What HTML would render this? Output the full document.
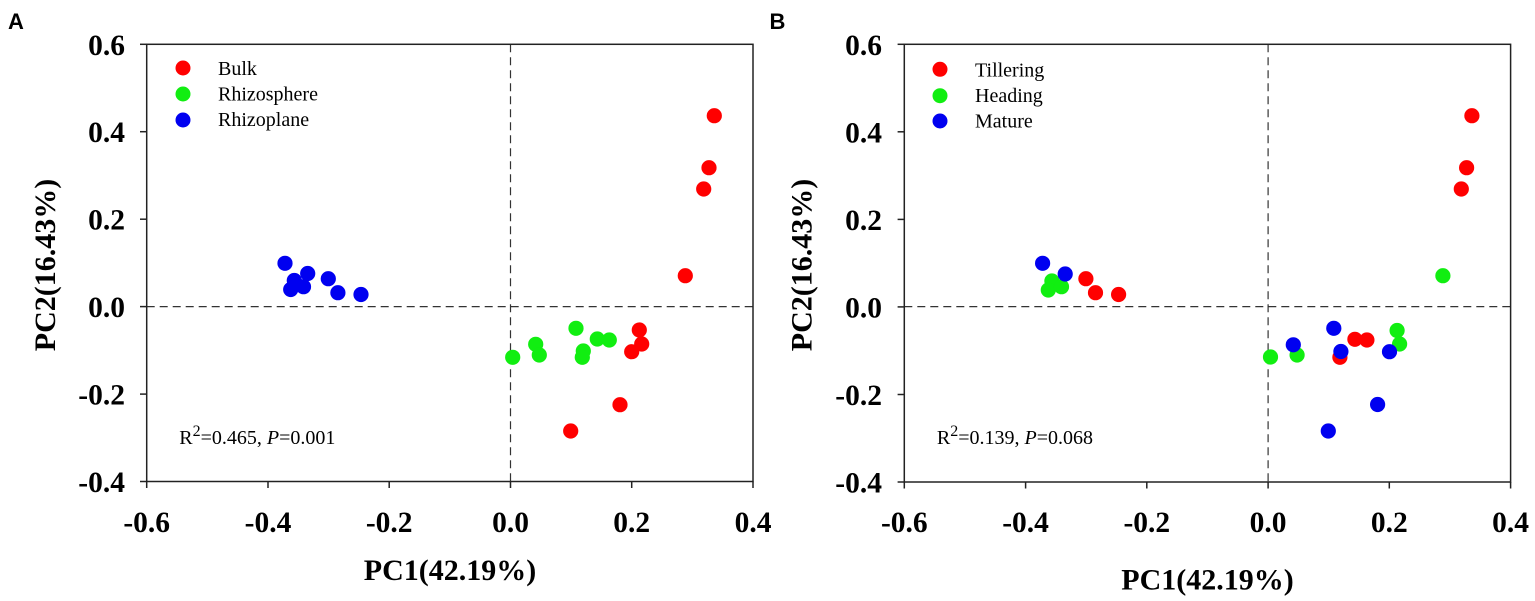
<!DOCTYPE html>
<html>
<head>
<meta charset="utf-8">
<style>
  html, body { margin: 0; padding: 0; background: #ffffff; }
  svg { display: block; }
  .tick { font-family: "Liberation Serif", serif; font-weight: bold; font-size: 29.5px; fill: #000; }
  .title { font-family: "Liberation Serif", serif; font-weight: bold; font-size: 30px; fill: #000; }
  .leg { font-family: "Liberation Serif", serif; font-size: 20px; fill: #000; }
  .panel { font-family: "Liberation Sans", sans-serif; font-weight: bold; font-size: 22px; fill: #000; }
</style>
</head>
<body>
<svg width="1535" height="601" viewBox="0 0 1535 601" xmlns="http://www.w3.org/2000/svg">
  <rect x="0" y="0" width="1535" height="601" fill="#ffffff"/>

  <!-- ================= PANEL A ================= -->
  <text class="panel" x="8" y="29">A</text>

  <!-- dashed reference lines -->
  <line x1="146.7" y1="306.6" x2="753" y2="306.6" stroke="#333" stroke-width="1.2" stroke-dasharray="8,5"/>
  <line x1="510.5" y1="44.3" x2="510.5" y2="481.5" stroke="#333" stroke-width="1.2" stroke-dasharray="8,5"/>

  <!-- frame -->
  <rect x="146.7" y="44.3" width="606.3" height="437.2" fill="none" stroke="#222" stroke-width="1.5"/>
  <!-- y ticks -->
  <g stroke="#222" stroke-width="1.5">
    <line x1="140" y1="44.3" x2="146.7" y2="44.3"/>
    <line x1="140" y1="131.7" x2="146.7" y2="131.7"/>
    <line x1="140" y1="219.2" x2="146.7" y2="219.2"/>
    <line x1="140" y1="306.6" x2="146.7" y2="306.6"/>
    <line x1="140" y1="394.1" x2="146.7" y2="394.1"/>
    <line x1="140" y1="481.5" x2="146.7" y2="481.5"/>
    <!-- x ticks -->
    <line x1="146.7" y1="481.5" x2="146.7" y2="488"/>
    <line x1="268" y1="481.5" x2="268" y2="488"/>
    <line x1="389.2" y1="481.5" x2="389.2" y2="488"/>
    <line x1="510.5" y1="481.5" x2="510.5" y2="488"/>
    <line x1="631.7" y1="481.5" x2="631.7" y2="488"/>
    <line x1="753" y1="481.5" x2="753" y2="488"/>
  </g>
  <!-- y tick labels -->
  <g class="tick" text-anchor="end">
    <text x="125" y="55">0.6</text>
    <text x="125" y="142.2">0.4</text>
    <text x="125" y="229.7">0.2</text>
    <text x="125" y="317.1">0.0</text>
    <text x="125" y="404.6">-0.2</text>
    <text x="125" y="492">-0.4</text>
  </g>
  <!-- x tick labels -->
  <g class="tick" text-anchor="middle">
    <text x="146.7" y="532">-0.6</text>
    <text x="268" y="532">-0.4</text>
    <text x="389.2" y="532">-0.2</text>
    <text x="510.5" y="532">0.0</text>
    <text x="631.7" y="532">0.2</text>
    <text x="753" y="532">0.4</text>
  </g>
  <text class="title" x="450" y="580" text-anchor="middle">PC1(42.19%)</text>
  <text class="title" x="0" y="0" text-anchor="middle" transform="translate(55,265) rotate(-90)">PC2(16.43%)</text>

  <!-- legend A -->
  <circle cx="183" cy="68" r="7.5" fill="#ff0000"/>
  <circle cx="183" cy="94" r="7.5" fill="#11ee11"/>
  <circle cx="183" cy="120" r="7.5" fill="#0000f0"/>
  <text class="leg" x="218" y="75">Bulk</text>
  <text class="leg" x="218" y="100.5">Rhizosphere</text>
  <text class="leg" x="218" y="126">Rhizoplane</text>

  <!-- annotation A -->
  <text class="leg" x="179.3" y="444">R<tspan dy="-8" font-size="16">2</tspan><tspan dy="8">=0.465, </tspan><tspan font-style="italic">P</tspan>=0.001</text>

  <!-- points A: red -->
  <g fill="#ff0000">
    <circle cx="639.3" cy="330" r="7.6"/>
    <circle cx="641.7" cy="344" r="7.6"/>
    <circle cx="631.7" cy="351.7" r="7.6"/>
    <circle cx="620" cy="404.7" r="7.6"/>
    <circle cx="570.7" cy="431" r="7.6"/>
    <circle cx="714.3" cy="115.7" r="7.6"/>
    <circle cx="709" cy="167.7" r="7.6"/>
    <circle cx="703.7" cy="189" r="7.6"/>
    <circle cx="685.3" cy="275.7" r="7.6"/>
  </g>
  <!-- green -->
  <g fill="#11ee11">
    <circle cx="512.7" cy="357.3" r="7.6"/>
    <circle cx="535.7" cy="344.3" r="7.6"/>
    <circle cx="539.3" cy="355" r="7.6"/>
    <circle cx="576" cy="328.3" r="7.6"/>
    <circle cx="583.3" cy="351" r="7.6"/>
    <circle cx="582.3" cy="357.3" r="7.6"/>
    <circle cx="597.3" cy="339" r="7.6"/>
    <circle cx="609.3" cy="340" r="7.6"/>
  </g>
  <!-- blue -->
  <g fill="#0000f0">
    <circle cx="285" cy="263.3" r="7.6"/>
    <circle cx="294.3" cy="280.5" r="7.6"/>
    <circle cx="307.7" cy="273.5" r="7.6"/>
    <circle cx="290.7" cy="289.5" r="7.6"/>
    <circle cx="303.5" cy="286.7" r="7.6"/>
    <circle cx="328.3" cy="278.7" r="7.6"/>
    <circle cx="337.9" cy="292.7" r="7.6"/>
    <circle cx="361" cy="294.5" r="7.6"/>
  </g>

  <!-- ================= PANEL B ================= -->
  <text class="panel" x="769.5" y="29">B</text>

  <line x1="904.3" y1="306.6" x2="1510.6" y2="306.6" stroke="#333" stroke-width="1.2" stroke-dasharray="8,5"/>
  <line x1="1268.1" y1="44.3" x2="1268.1" y2="482" stroke="#333" stroke-width="1.2" stroke-dasharray="8,5"/>

  <rect x="904.3" y="44.3" width="606.3" height="437.7" fill="none" stroke="#222" stroke-width="1.5"/>
  <g stroke="#222" stroke-width="1.5">
    <line x1="897.6" y1="44.3" x2="904.3" y2="44.3"/>
    <line x1="897.6" y1="131.8" x2="904.3" y2="131.8"/>
    <line x1="897.6" y1="219.4" x2="904.3" y2="219.4"/>
    <line x1="897.6" y1="306.9" x2="904.3" y2="306.9"/>
    <line x1="897.6" y1="394.5" x2="904.3" y2="394.5"/>
    <line x1="897.6" y1="482" x2="904.3" y2="482"/>
    <line x1="904.3" y1="482" x2="904.3" y2="488.5"/>
    <line x1="1025.6" y1="482" x2="1025.6" y2="488.5"/>
    <line x1="1146.8" y1="482" x2="1146.8" y2="488.5"/>
    <line x1="1268.1" y1="482" x2="1268.1" y2="488.5"/>
    <line x1="1389.3" y1="482" x2="1389.3" y2="488.5"/>
    <line x1="1510.6" y1="482" x2="1510.6" y2="488.5"/>
  </g>
  <g class="tick" text-anchor="end">
    <text x="882" y="55">0.6</text>
    <text x="882" y="142.3">0.4</text>
    <text x="882" y="229.9">0.2</text>
    <text x="882" y="317.4">0.0</text>
    <text x="882" y="405">-0.2</text>
    <text x="882" y="492.5">-0.4</text>
  </g>
  <g class="tick" text-anchor="middle">
    <text x="904.3" y="532">-0.6</text>
    <text x="1025.6" y="532">-0.4</text>
    <text x="1146.8" y="532">-0.2</text>
    <text x="1268.1" y="532">0.0</text>
    <text x="1389.3" y="532">0.2</text>
    <text x="1510.6" y="532">0.4</text>
  </g>
  <text class="title" x="1207.5" y="589.3" text-anchor="middle">PC1(42.19%)</text>
  <text class="title" x="0" y="0" text-anchor="middle" transform="translate(811.7,265) rotate(-90)">PC2(16.43%)</text>

  <!-- legend B -->
  <circle cx="940" cy="69.3" r="7.5" fill="#ff0000"/>
  <circle cx="940" cy="95.7" r="7.5" fill="#11ee11"/>
  <circle cx="940" cy="121" r="7.5" fill="#0000f0"/>
  <text class="leg" x="975" y="76.5">Tillering</text>
  <text class="leg" x="975" y="102">Heading</text>
  <text class="leg" x="975" y="127.5">Mature</text>

  <text class="leg" x="936.9" y="444">R<tspan dy="-8" font-size="16">2</tspan><tspan dy="8">=0.139, </tspan><tspan font-style="italic">P</tspan>=0.068</text>

  <!-- points B: red -->
  <g fill="#ff0000">
    <circle cx="1085.9" cy="278.7" r="7.6"/>
    <circle cx="1095.5" cy="292.7" r="7.6"/>
    <circle cx="1118.6" cy="294.5" r="7.6"/>
    <circle cx="1339.9" cy="357.3" r="7.6"/>
    <circle cx="1354.9" cy="339.3" r="7.6"/>
    <circle cx="1366.9" cy="340" r="7.6"/>
    <circle cx="1471.9" cy="115.7" r="7.6"/>
    <circle cx="1466.6" cy="167.7" r="7.6"/>
    <circle cx="1461.3" cy="189" r="7.6"/>
  </g>
  <!-- green -->
  <g fill="#11ee11">
    <circle cx="1051.9" cy="281" r="7.6"/>
    <circle cx="1048.3" cy="290" r="7.6"/>
    <circle cx="1061.5" cy="286.7" r="7.6"/>
    <circle cx="1270.5" cy="357" r="7.6"/>
    <circle cx="1297.1" cy="355" r="7.6"/>
    <circle cx="1397.1" cy="330.5" r="7.6"/>
    <circle cx="1399.6" cy="344" r="7.6"/>
    <circle cx="1442.9" cy="275.7" r="7.6"/>
  </g>
  <!-- blue -->
  <g fill="#0000f0">
    <circle cx="1042.6" cy="263.3" r="7.6"/>
    <circle cx="1065.2" cy="274" r="7.6"/>
    <circle cx="1293.3" cy="344.8" r="7.6"/>
    <circle cx="1333.8" cy="328.3" r="7.6"/>
    <circle cx="1340.9" cy="351.5" r="7.6"/>
    <circle cx="1389.5" cy="351.7" r="7.6"/>
    <circle cx="1377.6" cy="404.5" r="7.6"/>
    <circle cx="1328.3" cy="431" r="7.6"/>
  </g>
</svg>
</body>
</html>
